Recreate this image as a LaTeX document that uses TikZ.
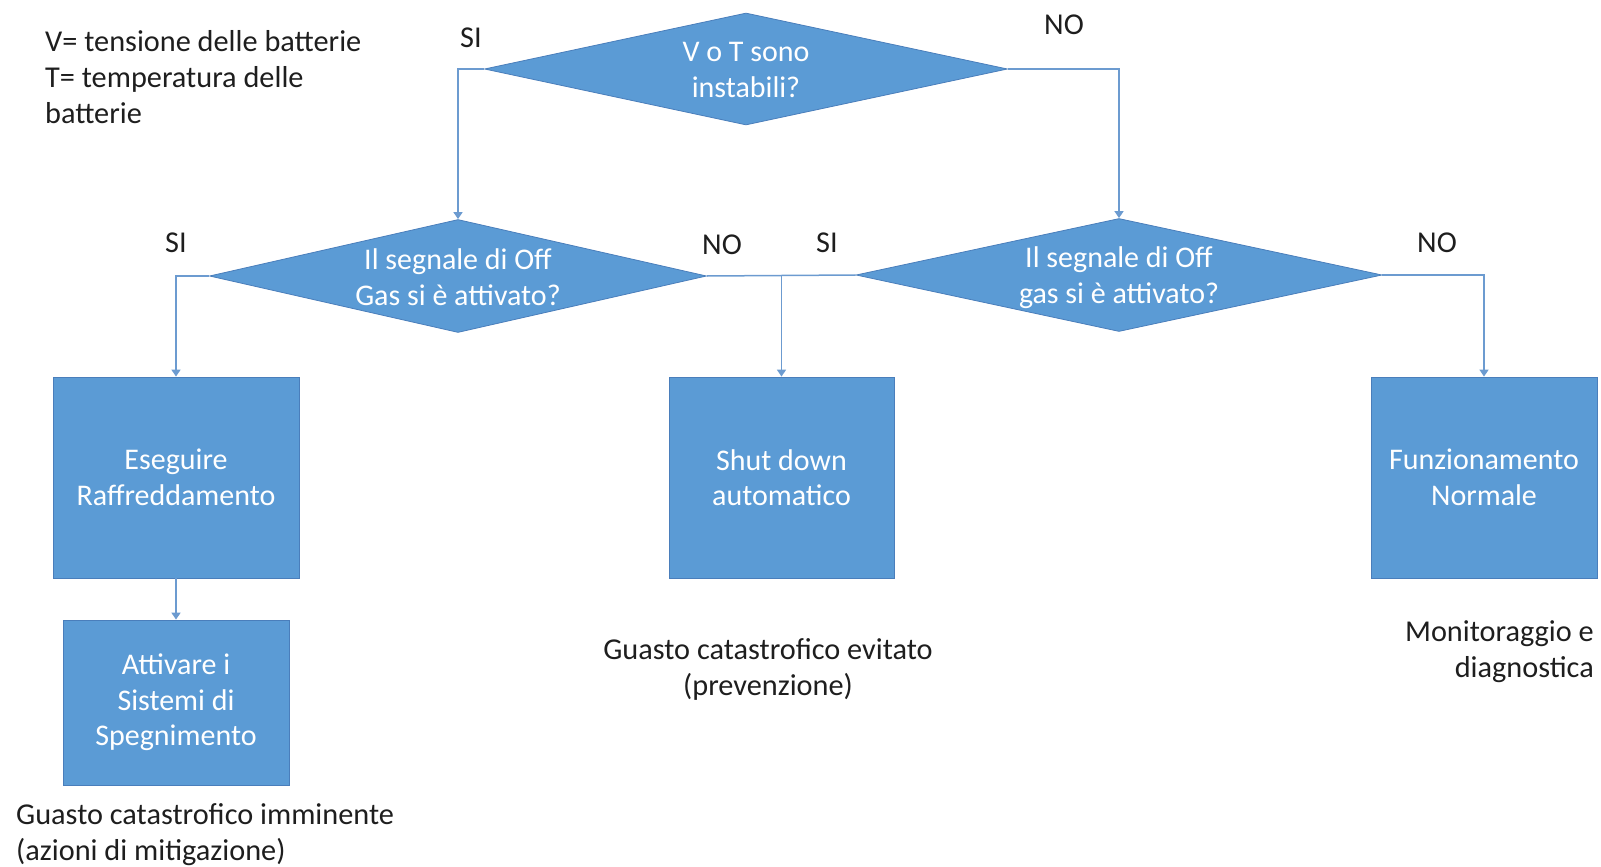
\documentclass[tikz,border=0pt]{standalone}
\usepackage{fontspec}
\setmainfont{Carlito}
\usetikzlibrary{shapes.geometric,arrows.meta}
\definecolor{fillblue}{HTML}{5B9BD5}
\definecolor{edgeblue}{HTML}{4A7EBB}
\definecolor{lineblue}{HTML}{6C9BD0}
\definecolor{ink}{HTML}{1E1E1E}
\begin{document}
\begin{tikzpicture}[x=1pt,y=-1pt,
  dia/.style={diamond, fill=fillblue, draw=edgeblue, line width=0.8pt, inner sep=0pt},
  boxnode/.style={rectangle, fill=fillblue, draw=edgeblue, line width=0.8pt, inner sep=0pt,
    text=white, align=center, font=\fontsize{30}{35.5}\selectfont},
  intext/.style={text=white, align=center, inner sep=0pt, font=\fontsize{30}{36}\selectfont},
  lbl/.style={text=ink, inner sep=0pt, font=\fontsize{30.3}{36}\selectfont},
  conn/.style={draw=lineblue, line width=1.5pt},
  arr/.style={conn, -{Triangle[width=9pt,length=7pt]}}
]
\useasboundingbox (0,0) rectangle (1601,867);

% decisions
\node[dia, minimum width=523pt, minimum height=112pt] (d0) at (746,69) {};
\node[intext] (t0) at (746,70) {V o T sono\\instabili?};
\node[dia, minimum width=497pt, minimum height=113pt] (d1) at (458,276) {};
\node[intext] (t1) at (458,277) {Il segnale di Off\\Gas si è attivato?};
\node[dia, minimum width=526pt, minimum height=113pt] (d2) at (1119,275) {};
\node[intext] (t2) at (1119,278) {Il segnale di Off\\gas si è attivato?};

% process boxes
\node[boxnode, minimum width=246pt, minimum height=201pt] (b1) at (176,477.5) {Eseguire\\Raffreddamento};
\node[boxnode, minimum width=225pt, minimum height=201pt] (b2) at (781.5,477.5) {Shut down\\automatico};
\node[boxnode, minimum width=226pt, minimum height=201pt] (b3) at (1484,477.5) {Funzionamento\\Normale};
\node[boxnode, minimum width=226pt, minimum height=165pt] (b4) at (176,702.5) {Attivare i\\Sistemi di\\Spegnimento};

% connectors
\draw[arr] (d0.west) -| (d1.north);
\draw[arr] (d0.east) -| (d2.north);
\draw[arr] (d1.west) -| (b1.north);
\draw[conn] (d1.east) -- (d2.west);
\draw[arr] (b2.north |- d1.east) -- (b2.north);
\draw[arr] (d2.east) -| (b3.north);
\draw[arr] (b1.south) -- (b4.north);

% branch labels
\node[lbl] (l0) at (471,38) {SI};
\node[lbl] (l1) at (1064,25) {NO};
\node[lbl] (l2) at (176,243) {SI};
\node[lbl] (l3) at (722,245) {NO};
\node[lbl] (l4) at (827,243) {SI};
\node[lbl] (l5) at (1437,243) {NO};

% notes
\node[lbl, align=left, anchor=west] (legend) at (45,77) {V= tensione delle batterie\\T= temperatura delle\\batterie};
\node[lbl, align=left, anchor=west] (n1) at (16,835) {Guasto catastrofico imminente\\(azioni di mitigazione)};
\node[lbl, align=center] (n2) at (768,669) {Guasto catastrofico evitato\\(prevenzione)};
\node[lbl, align=right, anchor=east] (n3) at (1594,652) {Monitoraggio e\\diagnostica};
\end{tikzpicture}
\end{document}
